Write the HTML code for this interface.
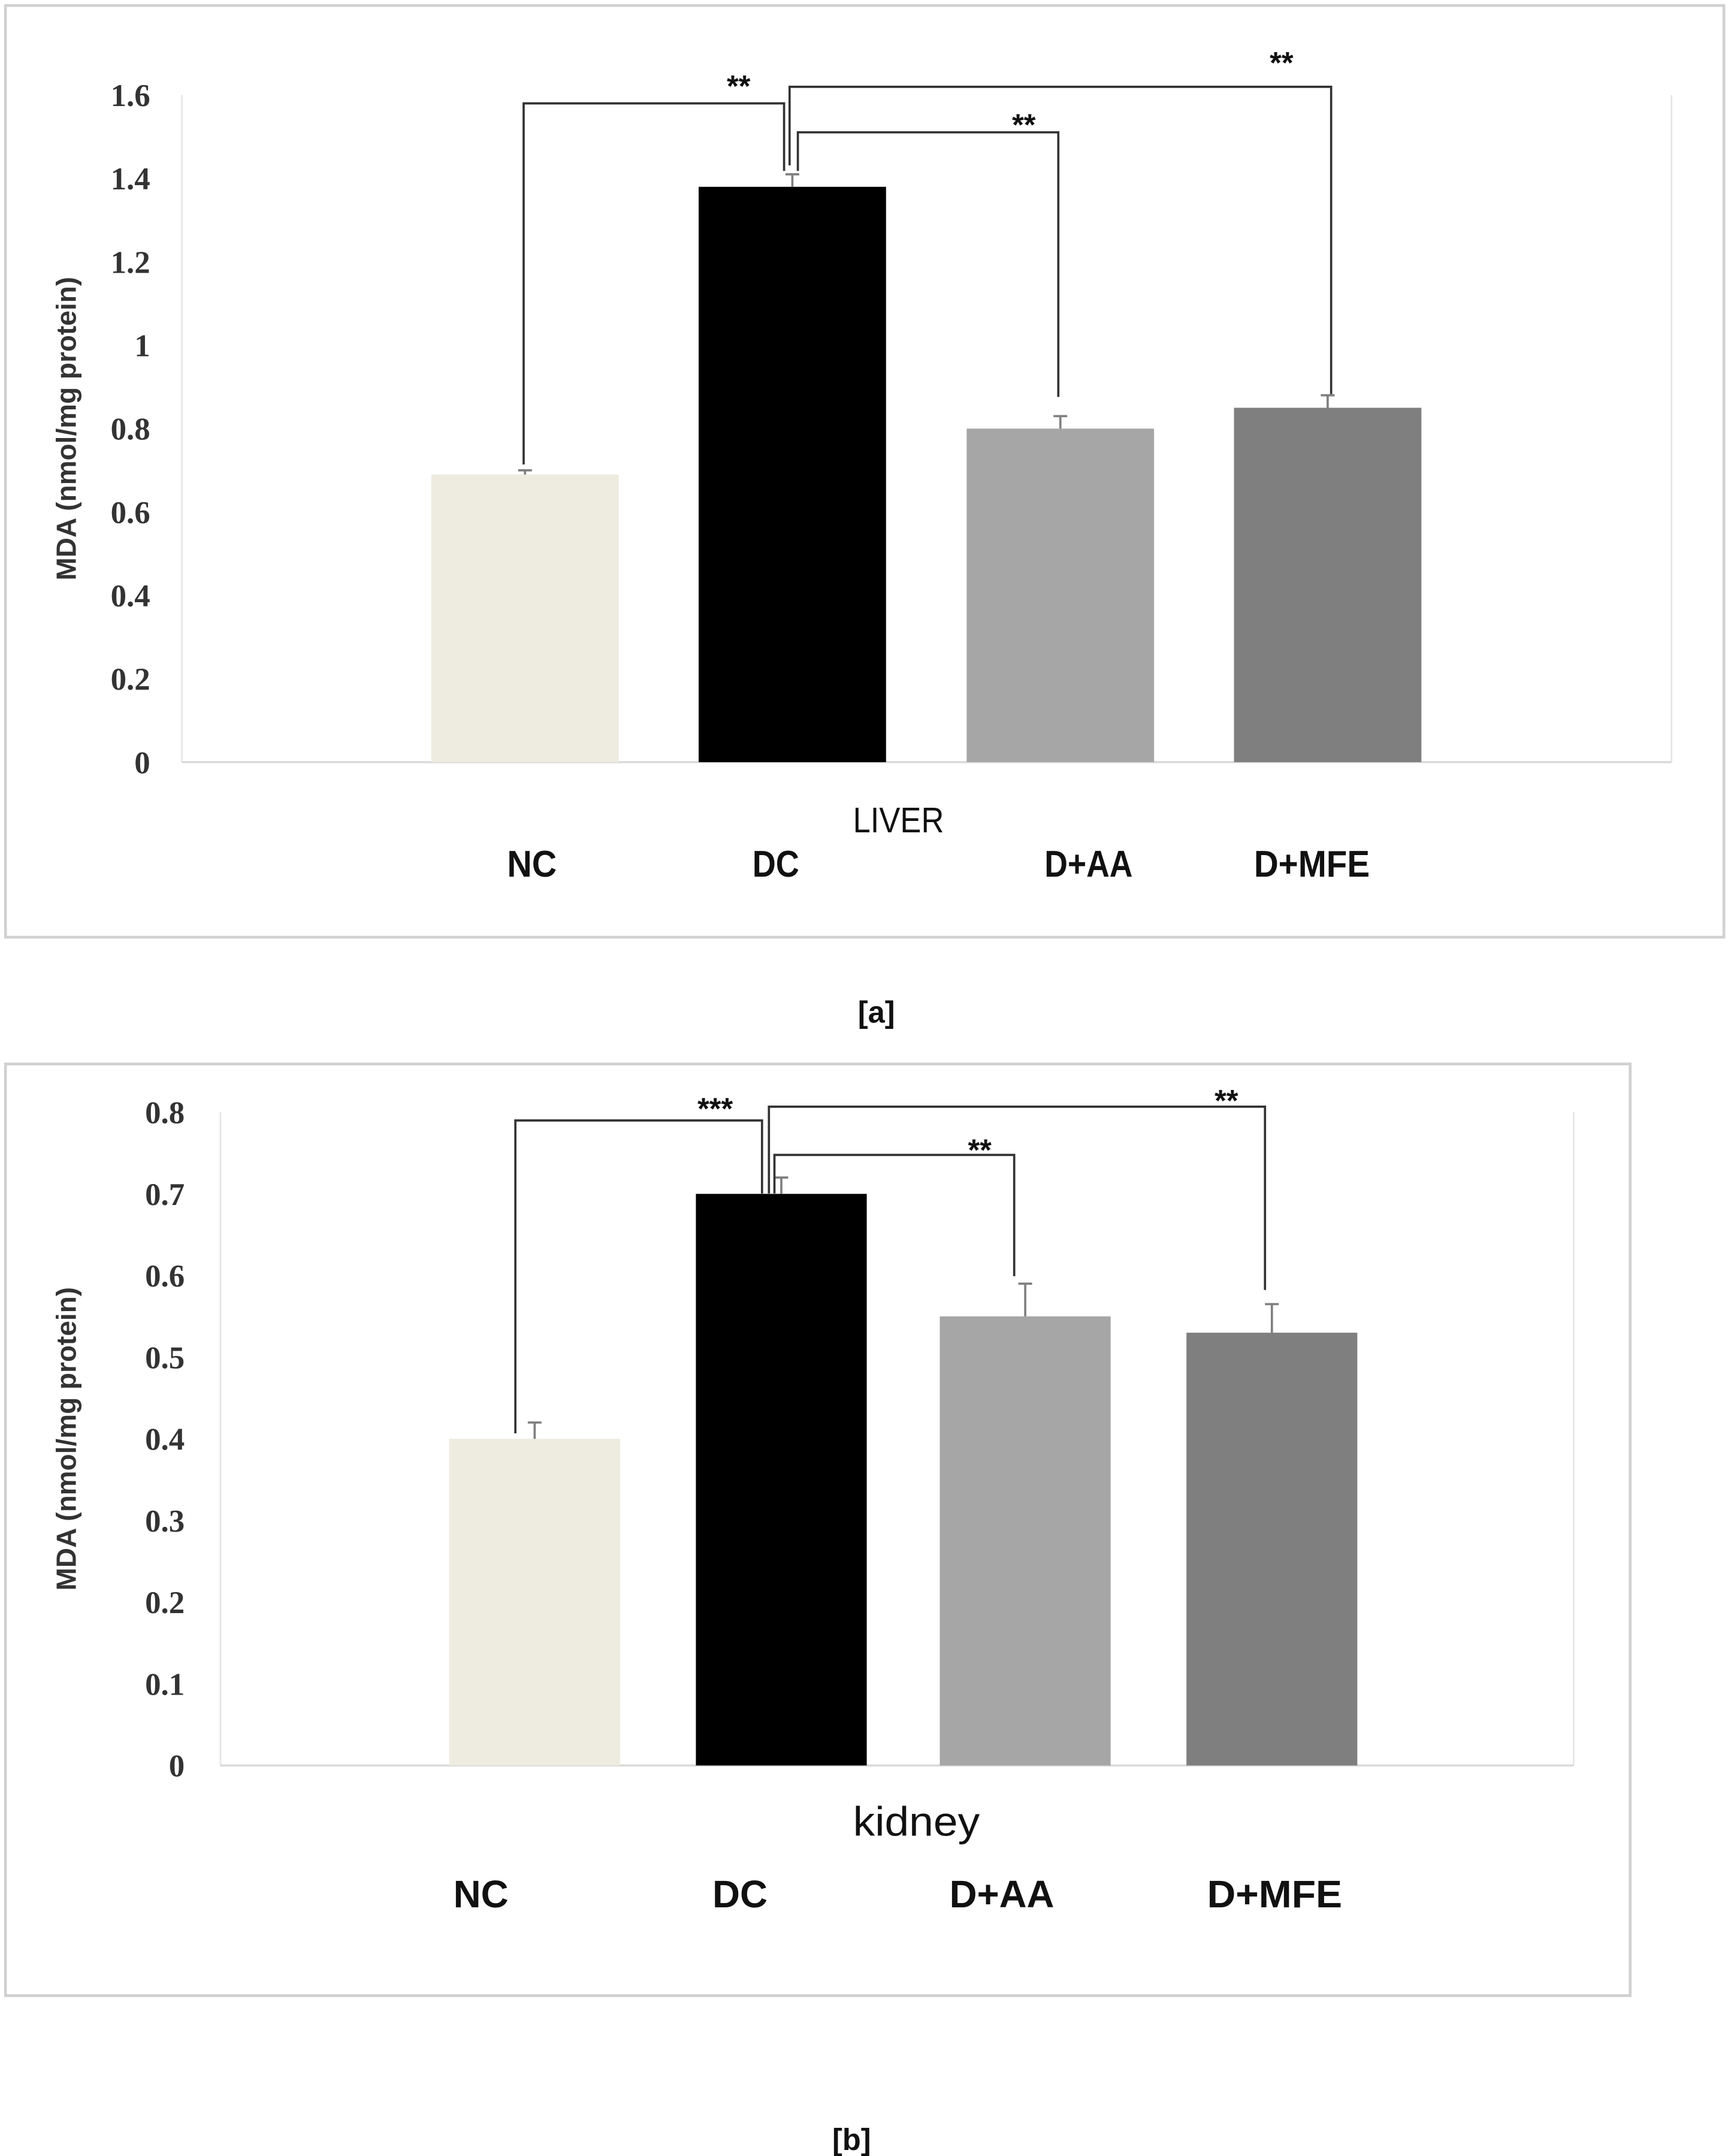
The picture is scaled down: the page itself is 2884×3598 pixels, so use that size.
<!DOCTYPE html>
<html><head><meta charset="utf-8"><style>
html,body{margin:0;padding:0;background:#fff;}
svg{display:block;}
</style></head><body>
<svg id="fig" width="2884" height="3598" viewBox="0 0 1254 1564.35" preserveAspectRatio="none" xmlns="http://www.w3.org/2000/svg" font-family="Liberation Sans, sans-serif">
<rect x="0" y="0" width="1254" height="1565" fill="#fff"/>
<g id="ga"></g>
<g id="gb"></g>
</svg>
<script>
const categories = ["NC","DC","D+AA","D+MFE"];
const liverValues = [0.69, 1.38, 0.80, 0.85];
const liverErrors = [0.01, 0.03, 0.03, 0.03];
const liverTicks = ["0","0.2","0.4","0.6","0.8","1","1.2","1.4","1.6"];
const kidneyValues = [0.40, 0.70, 0.55, 0.53];
const kidneyErrors = [0.02, 0.02, 0.04, 0.035];
const kidneyTicks = ["0","0.1","0.2","0.3","0.4","0.5","0.6","0.7","0.8"];
const colors = ["#eeebe0","#000000","#a6a6a6","#7f7f7f"];
const NS="http://www.w3.org/2000/svg";
function mk(p,tag,attrs,txt){const e=document.createElementNS(NS,tag);for(const k in attrs)e.setAttribute(k,attrs[k]);if(txt!==undefined)e.textContent=txt;p.appendChild(e);return e;}

function draw(g,cfg){
  mk(g,'rect',{x:cfg.frame[0],y:cfg.frame[1],width:cfg.frame[2],height:cfg.frame[3],fill:'none',stroke:'#d0d0d0','stroke-width':2});
  const L=cfg.left,R=cfg.right,Y0=cfg.y0,Y1=cfg.y1,max=cfg.max;
  const y=v=>Y0-(v/max)*(Y0-Y1);
  mk(g,'line',{x1:L,y1:Y1,x2:L,y2:Y0,stroke:'#e6e6e6','stroke-width':1.2});
  mk(g,'line',{x1:R,y1:Y1,x2:R,y2:Y0,stroke:'#e6e6e6','stroke-width':1.2});
  mk(g,'line',{x1:L,y1:Y0,x2:R,y2:Y0,stroke:'#d9d9d9','stroke-width':1.5});
  cfg.ticks.forEach((t,i)=>{
    const tv=parseFloat(t);
    const e=mk(g,'text',{x:cfg.tickX,y:y(tv)+8,'text-anchor':'end','font-size':23,'font-weight':'bold',fill:'#333',style:'font-family:"Liberation Serif",serif'},t);
    
    
  });
  const yt=mk(g,'text',{x:0,y:0,transform:`translate(${cfg.titleX},${(Y0+Y1)/2}) rotate(-90)`,'text-anchor':'middle','font-size':20,'font-weight':'bold',fill:'#333'},'MDA (nmol/mg protein)');
  
  
  const bw=cfg.bw;
  cfg.values.forEach((v,i)=>{
    const cx=cfg.centers[i];
    const b=mk(g,'rect',{x:cx-bw/2,y:y(v),width:bw,height:Y0-y(v),fill:colors[i]});
    
    
    const et=y(v+cfg.errors[i]);
    const eb=mk(g,'path',{d:`M${cx} ${y(v)}V${et}M${cx-5} ${et}H${cx+5}`,stroke:'#7f7f7f','stroke-width':1.6,fill:'none'});
    
    
    const lb=mk(g,'text',{x:cfg.labelX[i],y:cfg.labelY,'text-anchor':'middle','font-size':cfg.labelFs,'font-weight':'bold',fill:'#111',textLength:cfg.labelLen[i],lengthAdjust:'spacingAndGlyphs'},categories[i]);
    
    
  });
  cfg.brackets.forEach(bk=>{
    const p=mk(g,'path',{d:`M${bk[0]} ${bk[1]}V${bk[2]}H${bk[3]}V${bk[4]}`,stroke:'#333','stroke-width':1.6,fill:'none'});
    
    
    const s=mk(g,'text',{x:bk[5],y:bk[6],'text-anchor':'middle','font-size':22,'font-weight':'bold',fill:'#111'},bk[7]);
    
    
  });
  const xt=mk(g,'text',{x:cfg.xTitle[0],y:cfg.xTitle[1],'text-anchor':'middle','font-size':cfg.xTitle[2],fill:'#111',textLength:cfg.xTitle[3],lengthAdjust:'spacingAndGlyphs'},cfg.xTitle[4]);
  
  
  const pl=mk(g,'text',{x:cfg.panel[0],y:cfg.panel[1],'text-anchor':'middle','font-size':22,'font-weight':'bold',fill:'#111'},cfg.panel[2]);
  
  
}

draw(document.getElementById('ga'),{
  frame:[4,4,1247,676],left:132,right:1213,y0:553,y1:69,max:1.6,tickX:109,titleX:55,
  ticks:liverTicks,values:liverValues,errors:liverErrors,bw:136,centers:[381,575,769.5,963.5],
  labelX:[386,563,790,952],labelY:636,labelFs:27,labelLen:[36,34,64,84],
  brackets:[[380,337,75,569,124,536,70,'**'],[966,286,63,573,120,930,53,'**'],[768,288,96,579,124,743,98,'**']],
  xTitle:[652,604,26,66,'LIVER'],panel:[636,742,'[a]']
});
draw(document.getElementById('gb'),{
  frame:[4,772,1179,676],left:160,right:1142,y0:1281,y1:807,max:0.8,tickX:134,titleX:55,
  ticks:kidneyTicks,values:kidneyValues,errors:kidneyErrors,bw:124,centers:[388,567,744,923],
  labelX:[349,537,727,925],labelY:1384,labelFs:28,labelLen:[40,40,76,98],
  brackets:[[374,1040,813,553,866,519,812,'***'],[918,936,803,558,866,890,806,'**'],[736,926,838,562,866,711,842,'**']],
  xTitle:[665,1332,30,92,'kidney'],panel:[618,1560,'[b]']
});
</script>
</body></html>
